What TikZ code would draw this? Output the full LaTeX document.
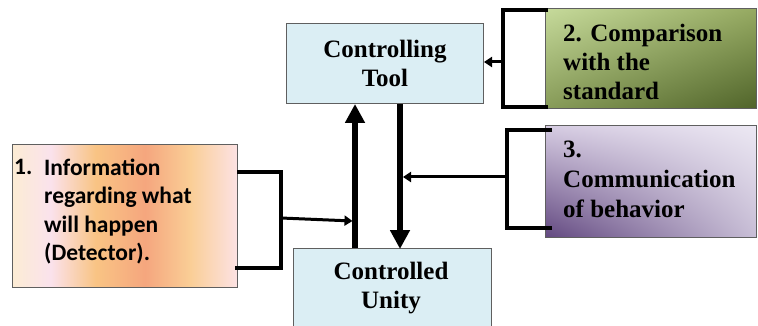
\documentclass[tikz,border=0pt]{standalone}
\usepackage{fontspec}
\newfontfamily\calib{Carlito}[BoldFont={Carlito Bold}]
\newfontfamily\tms{Liberation Serif}
\usetikzlibrary{arrows.meta,shadings}
\definecolor{boxblue}{RGB}{219,238,244}
\definecolor{edge}{RGB}{95,95,95}
\definecolor{dA}{RGB}{252,236,212}
\definecolor{dB}{RGB}{250,226,236}
\definecolor{dC}{RGB}{249,196,132}
\definecolor{dD}{RGB}{245,166,126}
\definecolor{dE}{RGB}{250,206,150}
\definecolor{dF}{RGB}{252,226,228}
\definecolor{gUL}{RGB}{198,218,155}
\definecolor{gUR}{RGB}{150,170,98}
\definecolor{gLL}{RGB}{135,155,88}
\definecolor{gLR}{RGB}{80,100,42}
\definecolor{pUL}{RGB}{214,204,226}
\definecolor{pUR}{RGB}{236,232,243}
\definecolor{pLL}{RGB}{98,72,128}
\definecolor{pLR}{RGB}{200,190,214}
\pgfdeclarehorizontalshading{detshade}{100bp}{color(0bp)=(dA); color(25bp)=(dA); color(33.5bp)=(dB); color(43.5bp)=(dC); color(54.5bp)=(dD); color(64.5bp)=(dE); color(75bp)=(dF); color(100bp)=(dF)}
\tikzset{
  boxedge/.style={draw=edge, line width=1pt},
  serif/.style={font=\tms\bfseries\fontsize{25}{29}\selectfont, inner sep=0pt, text=black},
  sans/.style={font=\calib\bfseries\fontsize{23.5}{28.5}\selectfont, inner sep=0pt, text=black},
  bigarrow/.style={line width=5.5pt, -{Triangle[length=19pt,width=19pt]}},
  bracket/.style={line width=3.2pt},
  smallarrow/.style={line width=3pt, -{Triangle[length=8pt,width=10pt]}},
}
\begin{document}
\begin{tikzpicture}[x=1pt,y=-1pt]
\useasboundingbox (0,0) rectangle (758,326);
% boxes
\node[boxedge, shading=detshade, minimum width=225pt, minimum height=143pt, anchor=north west, inner sep=0pt] (det) at (12,144) {};
\node[boxedge, fill=boxblue, minimum width=197pt, minimum height=80pt, anchor=north west, inner sep=0pt] (tool) at (286,23) {};
\node[boxedge, fill=boxblue, minimum width=198pt, minimum height=92pt, anchor=north west, inner sep=0pt] (unity) at (293,248) {};
\node[boxedge, upper left=gUL, upper right=gUR, lower left=gLL, lower right=gLR, minimum width=211pt, minimum height=100pt, anchor=north west, inner sep=0pt] (comp) at (545,8) {};
\node[boxedge, upper left=pUL, upper right=pUR, lower left=pLL, lower right=pLR, minimum width=211pt, minimum height=112pt, anchor=north west, inner sep=0pt] (comm) at (545,125) {};
% texts (base anchor = baseline of last line)
\node[sans, anchor=base west] (t1n) at (14,175) {1.};
\node[sans, anchor=base west, align=left] (t1) at (44,260.5) {Information\\regarding what\\will happen\\(Detector).};
\node[serif, anchor=base, align=center] (t2) at (385,87) {Controlling\\Tool};
\node[serif, anchor=base, align=center] (t3) at (391,308) {Controlled\\Unity};
\node[serif, anchor=base west, align=left] (t4) at (563,100) {2. Comparison\\with the\\standard};
\node[serif, anchor=base west, align=left] (t5) at (563,217) {3.\\[1pt]Communication\\of behavior};
% coordinates
\coordinate (upx) at (355,0);
\coordinate (dnx) at (400,0);
\coordinate (b1x) at (281,0);
\coordinate (b2x) at (503,0);
\coordinate (b3x) at (507,0);
% main arrows
\draw[bigarrow] (unity.north -| upx) -- (tool.south -| upx);
\draw[bigarrow] (tool.south -| dnx) -- ([yshift=-1pt]unity.north -| dnx);
% bracket 1
\coordinate (b1t) at (237,172);
\coordinate (b1b) at (235,268);
\draw[bracket] (b1t) -- (b1t -| b1x) -- (b1b -| b1x) -- (b1b);
\coordinate (b1m) at (281,218);
\coordinate (b1e) at (352.5,221);
\draw[smallarrow] (b1m) -- (b1e);
% bracket 2
\coordinate (b2t) at (548,10);
\coordinate (b2b) at (548,107);
\draw[bracket] (b2t) -- (b2t -| b2x) -- (b2b -| b2x) -- (b2b);
\coordinate (b2m) at (503,62);
\draw[smallarrow] (b2m) -- (b2m -| tool.east);
% bracket 3
\coordinate (b3t) at (552,130);
\coordinate (b3b) at (552,228);
\draw[bracket] (b3t) -- (b3t -| b3x) -- (b3b -| b3x) -- (b3b);
\coordinate (b3m) at (507,177);
\coordinate (b3e) at (403,177);
\draw[smallarrow] (b3m) -- (b3e);
\end{tikzpicture}
\end{document}
